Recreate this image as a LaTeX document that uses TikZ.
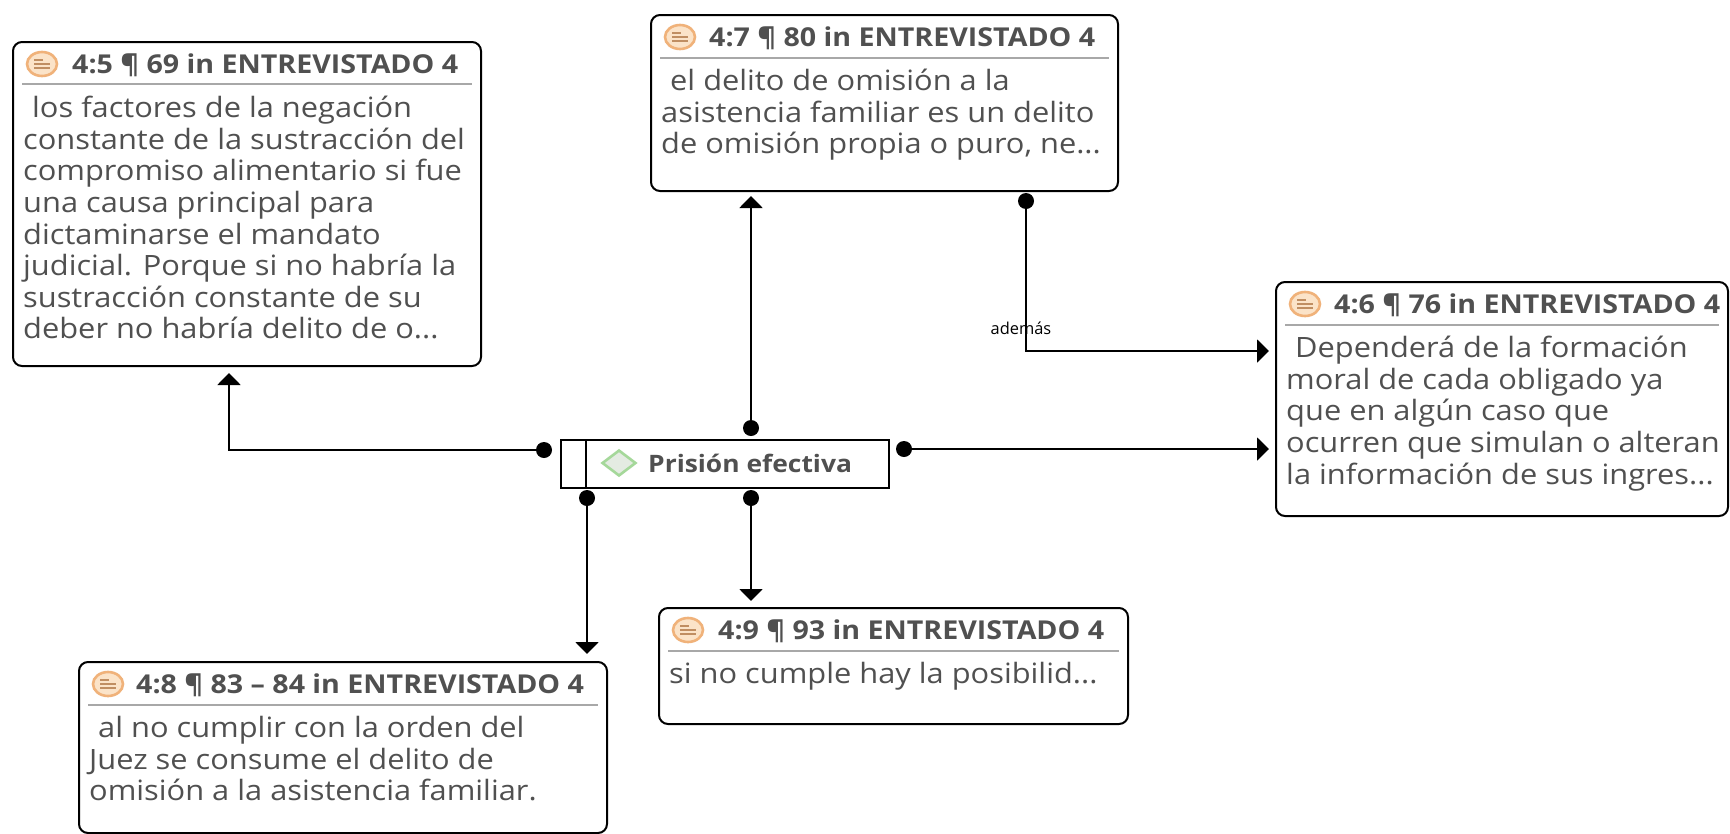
\documentclass[tikz,border=0pt]{standalone}
\usepackage{fontspec}
\setmainfont[FakeStretch=1.1]{Open Sans}
\newfontfamily\labelfont{Open Sans}
\usetikzlibrary{arrows.meta,calc,shapes.geometric}
\definecolor{ink}{HTML}{505050}
\definecolor{rulegray}{HTML}{A8A8A8}
\definecolor{iconorange}{HTML}{F0B27A}
\definecolor{iconfill}{HTML}{FBE3C8}
\definecolor{diagreen}{HTML}{A5D89A}
\definecolor{diafill}{HTML}{E4EBE2}
\tikzset{
  x=1pt,y=-1pt,
  quotebox/.style={draw=black,line width=2pt,rounded corners=9pt,fill=white,inner sep=0pt,anchor=north west},
  titletext/.style={font=\fontsize{26}{30}\selectfont\bfseries,text=ink,anchor=west,inner sep=0pt},
  bodytext/.style={font=\fontsize{28}{31.6}\selectfont,text=ink,anchor=north west,align=left,inner sep=0pt},
  sep/.style={draw=rulegray,line width=1.2pt},
  icon/.style={ellipse,draw=iconorange,line width=2.6pt,fill=iconfill,minimum width=30pt,minimum height=24pt,inner sep=0pt},
  link/.style={draw=black,line width=2pt,-{Triangle[width=23pt,length=12pt]}},
  startdot/.style={circle,fill=black,minimum size=16pt,inner sep=0pt},
  codebox/.style={draw=black,line width=2pt,fill=white,minimum width=328pt,minimum height=48pt,inner sep=0pt,anchor=north west},
  greendia/.style={diamond,draw=diagreen,line width=2.6pt,fill=diafill,minimum width=34pt,minimum height=26pt,inner sep=0pt,aspect=1.2},
  codetext/.style={font=\fontsize{24}{28}\selectfont\bfseries,text=ink,anchor=west,inner sep=0pt},
  linklabel/.style={font=\labelfont\fontsize{16.4}{20}\selectfont,text=black,inner sep=0pt},
}
% name, x, y, w, h, title, body, title x-offset, separator y-offset
\newcommand{\qbox}[9]{%
  \node[quotebox,minimum width=#4pt,minimum height=#5pt] (#1) at (#2,#3) {};
  \node[icon] (#1icon) at ($(#1.north west)+(30,23)$) {};
  \draw[iconorange!80!black,line width=1.4pt] ($(#1icon.center)+(-8,-4)$) -- +(9,0) ($(#1icon.center)+(-8,0)$) -- +(16,0) ($(#1icon.center)+(-8,4)$) -- +(16,0);
  \node[titletext] (#1title) at ($(#1.north west)+(#8,24)$) {#6};
  \draw[sep] ($(#1.north west)+(10,#9)$) -- ($(#1.north east)+(-10,#9)$);
  \node[bodytext] (#1body) at ($(#1.north west)+(11,55)$) {#7};
}
\begin{document}
\begin{tikzpicture}
\useasboundingbox (0,0) rectangle (1730,833);
\fill[white] (0,0) rectangle (1730,833);

\qbox{A}{12}{41}{468}{324}{4:5 ¶ 69 in ENTREVISTADO 4}{\hspace*{9pt}los factores de la negación\\constante de la sustracción del\\compromiso alimentario si fue\\una causa principal para\\dictaminarse el mandato\\judicial. Porque si no habría la\\sustracción constante de su\\deber no habría delito de o...}{60}{43}
\qbox{B}{650}{14}{467}{176}{4:7 ¶ 80 in ENTREVISTADO 4}{\hspace*{9pt}el delito de omisión a la\\asistencia familiar es un delito\\de omisión propia o puro, ne...}{59}{44}
\qbox{C}{1275}{281}{452}{234}{4:6 ¶ 76 in ENTREVISTADO 4}{\hspace*{9pt}Dependerá de la formación\\moral de cada obligado ya\\que en algún caso que\\ocurren que simulan o alteran\\la información de sus ingres...}{59}{44}
\qbox{D}{78}{661}{528}{171}{4:8 ¶ 83 – 84 in ENTREVISTADO 4}{\hspace*{9pt}al no cumplir con la orden del\\Juez se consume el delito de\\omisión a la asistencia familiar.}{58}{44}
\qbox{E}{658}{607}{469}{116}{4:9 ¶ 93 in ENTREVISTADO 4}{si no cumple hay la posibilid...}{60}{44}

% central code node
\node[codebox] (P) at (560,439) {};
\draw[black,line width=2pt] (586,439) -- (586,487);
\node[greendia] (Pdia) at (619,463) {};
\node[codetext] (Ptext) at (648,463) {Prisión efectiva};

% start dots
\node[startdot] (dA) at (544,450) {};
\node[startdot] (dB) at (751,428) {};
\node[startdot] (dC) at (904,449) {};
\node[startdot] (dD) at (587,498) {};
\node[startdot] (dE) at (751,498) {};
\node[startdot] (dBC) at (1026,201) {};

% arrow ends
\coordinate (tA) at (229,373);
\coordinate (tB) at (751,196);
\coordinate (tC) at (1269,449);
\coordinate (tBC) at (1269,351);
\coordinate (tD) at (587,654);
\coordinate (tE) at (751,601);

\draw[link] (dA.center) -| (tA);
\draw[link] (dB.center) -- (tB);
\draw[link] (dC.center) -- (tC);
\draw[link] (dD.center) -- (tD);
\draw[link] (dE.center) -- (tE);
\draw[link] (dBC.center) |- (tBC);
\node[linklabel] (lab) at (1021,328) {además};
\end{tikzpicture}
\end{document}
